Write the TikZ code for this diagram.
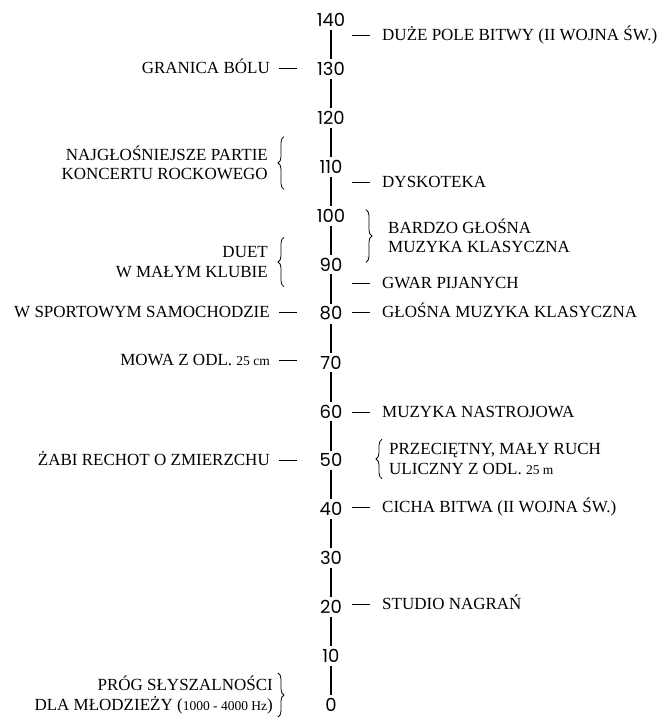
\documentclass[tikz,border=0pt]{standalone}
\usepackage{fontspec}
\setmainfont{Liberation Serif}
\newfontfamily\numfont{Poppins}
\usetikzlibrary{decorations.pathreplacing}
\newcommand{\dsh}{\raisebox{4.3pt}{\rule{18pt}{1.5pt}}}
\newcommand{\sm}[1]{{\fontsize{13.5}{14}\selectfont #1}}

\begin{document}
\begin{tikzpicture}[x=1pt,y=1pt,
	num/.style={font=\numfont\fontsize{18}{18}\selectfont, inner sep=3pt},
	axis/.style={line width=1.4pt},
	lbl/.style={font=\fontsize{17}{19.5}\selectfont, inner sep=0pt},
	grp/.style={lbl, inner ysep=9pt},
	brc/.style={decorate, decoration={brace, amplitude=6pt}, line width=0.8pt}]
			\useasboundingbox (0,0) rectangle (668,724);
			% skala
			\foreach \v in {0,10,...,140}
				\node[num] at(331,19+4.893*\v) (n\v) {\v};
			\foreach \v [evaluate=\v as \w using int(\v+10)] in {0,10,...,130}
				\draw[axis] (n\v) -- (n\w);
			
			% prawa strona
			\node[lbl, anchor=base west] at(352,683.4) (pole) {\dsh\hspace{12pt}DUŻE POLE BITWY (II WOJNA ŚW.)};
			\node[lbl, anchor=base west] at(352,536.4) (dysk) {\dsh\hspace{12pt}DYSKOTEKA};
			\node[grp, anchor=west, align=left] at(388,488) (klas) {BARDZO GŁOŚNA\\MUZYKA KLASYCZNA};
			\node[lbl, anchor=base west] at(352,435.4) (gwar) {\dsh\hspace{12pt}GWAR PIJANYCH};
			\node[lbl, anchor=base west] at(352,406.4) (glos) {\dsh\hspace{12pt}GŁOŚNA MUZYKA KLASYCZNA};
			\node[lbl, anchor=base west] at(352,306.4) (nast) {\dsh\hspace{12pt}MUZYKA NASTROJOWA};
			\node[grp, inner ysep=4pt, anchor=west, align=left] at(389,265) (ruch) {PRZECIĘTNY, MAŁY RUCH\\ULICZNY Z ODL. \sm{25 m}};
			\node[lbl, anchor=base west] at(352,211.4) (cich) {\dsh\hspace{12pt}CICHA BITWA (II WOJNA ŚW.)};
			\node[lbl, anchor=base west] at(352,114.4) (stud) {\dsh\hspace{12pt}STUDIO NAGRAŃ};
			
			% lewa strona
			\node[lbl, anchor=base east] at(297,650.4) (bol) {GRANICA BÓLU\hspace{9pt}\dsh};
			\node[grp, anchor=east, align=right] at(268,561) (rock) {NAJGŁOŚNIEJSZE PARTIE\\KONCERTU ROCKOWEGO};
			\node[grp, anchor=east, align=right] at(268,462) (duet) {DUET\\W MAŁYM KLUBIE};
			\node[lbl, anchor=base east] at(297,406.4) (samo) {W SPORTOWYM SAMOCHODZIE\hspace{9pt}\dsh};
			\node[lbl, anchor=base east] at(297,358.4) (mowa) {MOWA Z ODL. \sm{25 cm}\hspace{9pt}\dsh};
			\node[lbl, anchor=base east] at(297,258.4) (zabi) {ŻABI RECHOT O ZMIERZCHU\hspace{9pt}\dsh};
			\node[grp, inner ysep=3pt, anchor=east, align=right] at(273,29) (prog) {PRÓG SŁYSZALNOŚCI\\DLA MŁODZIEŻY (\sm{1000 - 4000 Hz})};
			
			% klamry
			\draw[brc] ([xshift=16pt]rock.south east) -- ([xshift=16pt]rock.north east);
			\draw[brc] ([xshift=16pt]duet.south east) -- ([xshift=16pt]duet.north east);
			\draw[brc] ([xshift=-22pt]klas.north west) -- ([xshift=-22pt]klas.south west);
			\draw[brc] ([xshift=-7pt]ruch.south west) -- ([xshift=-7pt]ruch.north west);
			\draw[brc] ([xshift=5pt]prog.north east) -- ([xshift=5pt]prog.south east);
			\end{tikzpicture}
\end{document}
